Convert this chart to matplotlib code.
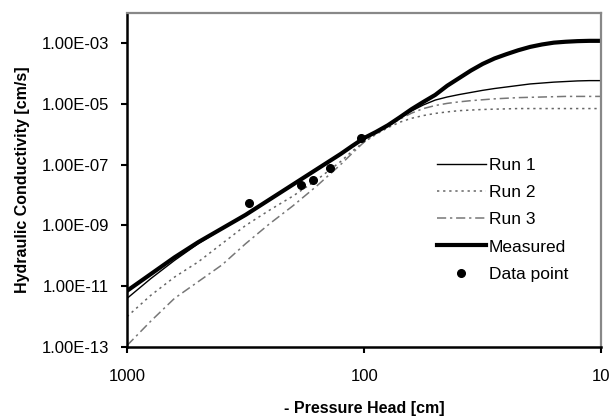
import matplotlib
matplotlib.use("Agg")
import matplotlib.pyplot as plt
import numpy as np

plt.rcParams['font.family'] = ['Liberation Sans', 'DejaVu Sans']

# -Pressure head [cm] (log10) and conductivity (log10 cm/s)
log_h = [3.0, 2.9, 2.8, 2.7, 2.6, 2.5, 2.4, 2.3, 2.2, 2.1, 2.05, 2.0,
         1.95, 1.9, 1.85, 1.8, 1.75, 1.7, 1.65, 1.6, 1.55, 1.5,
         1.45, 1.4, 1.35, 1.3, 1.25, 1.2, 1.15, 1.1, 1.05, 1.0]
run1_logk = [-11.40, -10.75, -10.15, -9.60, -9.12, -8.67, -8.17, -7.67, -7.17, -6.67, -6.41, -6.15,
             -5.94, -5.72, -5.47, -5.23, -5.03, -4.87, -4.77, -4.69, -4.62, -4.55,
             -4.49, -4.44, -4.39, -4.34, -4.31, -4.28, -4.26, -4.24, -4.23, -4.23]
run2_logk = [-12.00, -11.30, -10.70, -10.20, -9.60, -9.00, -8.50, -8.03, -7.50, -6.90, -6.55, -6.25,
             -6.00, -5.78, -5.60, -5.47, -5.38, -5.31, -5.26, -5.22, -5.20, -5.18,
             -5.17, -5.16, -5.15, -5.15, -5.15, -5.15, -5.15, -5.15, -5.15, -5.15]
run3_logk = [-12.95, -12.15, -11.40, -10.85, -10.30, -9.60, -8.95, -8.35, -7.70, -7.00, -6.62, -6.25,
             -5.97, -5.74, -5.50, -5.30, -5.15, -5.05, -4.98, -4.93, -4.89, -4.86,
             -4.83, -4.81, -4.79, -4.78, -4.77, -4.76, -4.75, -4.75, -4.75, -4.75]
meas_logk = [-11.15, -10.60, -10.05, -9.55, -9.10, -8.65, -8.15, -7.65, -7.15, -6.65, -6.38, -6.12,
             -5.92, -5.70, -5.44, -5.17, -4.93, -4.70, -4.40, -4.15, -3.90, -3.68,
             -3.50, -3.36, -3.23, -3.12, -3.04, -2.98, -2.95, -2.93, -2.92, -2.92]

# Data points
pts_h = [305, 185, 164, 139, 103]
pts_k = [5.6e-9, 2.2e-8, 3.1e-8, 7.8e-8, 7.6e-7]

xticks = [1000, 100, 10]
xticklabels = ['1000', '100', '10']
yticks = [1e-13, 1e-11, 1e-9, 1e-7, 1e-5, 1e-3]
yticklabels = ['1.00E-13', '1.00E-11', '1.00E-09', '1.00E-07', '1.00E-05', '1.00E-03']

h = 10 ** np.array(log_h)

fig = plt.figure(figsize=(6.11, 4.16), dpi=100)
ax = fig.add_axes([0.208, 0.166, 0.776, 0.803])

ax.plot(h, 10 ** np.array(run1_logk), color='black', lw=1.0, label='Run 1')
ax.plot(h, 10 ** np.array(run2_logk), color='#666666', lw=1.1, ls=(0, (1.5, 2.5)), label='Run 2')
ax.plot(h, 10 ** np.array(run3_logk), color='#777777', lw=1.1, ls=(0, (6, 2.5, 1.5, 2.5)), label='Run 3')
ax.plot(h, 10 ** np.array(meas_logk), color='black', lw=3.0, label='Measured')
ax.plot(pts_h, pts_k, 'o', color='black', ms=5.5, ls='none', label='Data point')

ax.set_xscale('log')
ax.set_yscale('log')
ax.set_xlim(1000, 10)
ax.set_ylim(1e-13, 1e-2)

ax.set_xticks(xticks)
ax.set_xticklabels(xticklabels)
ax.set_yticks(yticks)
ax.set_yticklabels(yticklabels)
ax.minorticks_off()
ax.tick_params(axis='both', which='major', direction='out', length=4, width=1.5,
               labelsize=12, colors='black')
ax.tick_params(axis='y', pad=9)
ax.tick_params(axis='x', pad=12)

for s in ['left', 'bottom']:
    ax.spines[s].set_color('black')
    ax.spines[s].set_linewidth(1.8)
for s in ['top', 'right']:
    ax.spines[s].set_color('#888888')
    ax.spines[s].set_linewidth(1.6)

ax.set_xlabel('- Pressure Head [cm]', fontsize=11.5, fontweight='bold', labelpad=12)
ax.set_ylabel('Hydraulic Conductivity [cm/s]', fontsize=11.5, fontweight='bold', labelpad=8)

leg = ax.legend(loc='upper left', bbox_to_anchor=(437 / 611, 1 - 158 / 416),
                bbox_transform=fig.transFigure, frameon=False, fontsize=12.5,
                handlelength=2.8, handletextpad=0.2, labelspacing=0.69,
                borderpad=0, borderaxespad=0)

fig.savefig('out.png', dpi=100)
